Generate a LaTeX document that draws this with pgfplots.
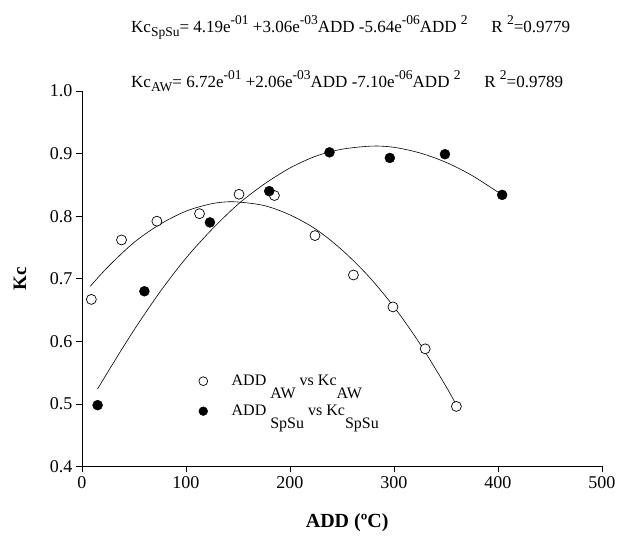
\documentclass[border=0pt]{standalone}
\usepackage{fontspec}
\setmainfont{Liberation Serif}
\usepackage{pgfplots}
\pgfplotsset{compat=1.18}
% small raised / lowered text for the fit equations
\newcommand{\esub}[1]{\raisebox{-4pt}{\fontsize{13.5}{15}\selectfont #1}}
\newcommand{\esup}[1]{\raisebox{8pt}{\fontsize{13.5}{15}\selectfont #1}}
% legend subscripts drop much further
\newcommand{\lsub}[1]{\raisebox{-13pt}{#1}}

\begin{document}
\begin{tikzpicture}[x=1pt,y=1pt]
\begin{axis}[
  at={(0,0)}, anchor=south west,
  scale only axis,
  width=520pt, height=375.5pt,
  xmin=0, xmax=500, ymin=0.4, ymax=1.0,
  xtick={0,100,...,500},
  ytick={0.4,0.5,...,1.0},
  axis lines=left,
  axis line style={-, black, line width=0.8pt},
  tick align=outside,
  major tick length=6pt,
  tick style={black, line width=0.8pt},
  tick label style={font=\fontsize{18}{20}\selectfont},
  /pgf/number format/assume math mode=true,
  yticklabel style={/pgf/number format/.cd, fixed, fixed zerofill, precision=1},
  xlabel={\textbf{ADD (ºC)}},
  ylabel={\textbf{Kc}},
  xlabel style={font=\fontsize{20}{22}\selectfont, at={(axis description cs:0.51,0)}, anchor=base, yshift=-61pt},
  ylabel style={font=\fontsize{19}{21}\selectfont, at={(axis description cs:-0.119,0.5)}, anchor=center},
  legend image code/.code={\draw[#1, mark size=4.4pt] plot coordinates {(0pt,0pt)};},
  legend style={at={(axis cs:112.2,0.5606)}, anchor=north west, draw=none, fill=none,
    font=\fontsize{16}{18}\selectfont, row sep=0pt, inner sep=0pt,
    nodes={inner sep=0pt, text height=19pt, text depth=11pt},
    /tikz/every odd column/.append style={column sep=24pt}},
  legend cell align=left,
]
% fitted curves
\addplot[black, line width=0.6pt, smooth, forget plot] coordinates {
  (8,0.688)(25,0.719)(50,0.758)(75,0.787)(100,0.808)(125,0.820)(146,0.823)
  (175,0.817)(200,0.802)(225,0.779)(250,0.746)(275,0.705)(300,0.655)
  (325,0.596)(350,0.528)(360,0.498)};
\addplot[black, line width=0.6pt, smooth, forget plot] coordinates {
  (15,0.524)(30,0.565)(50,0.618)(75,0.679)(100,0.733)(125,0.779)(150,0.819)
  (175,0.851)(200,0.877)(225,0.896)(250,0.907)(279,0.912)(300,0.910)
  (325,0.901)(350,0.886)(375,0.865)(404,0.834)};
% AW
\addplot[only marks, mark=*, mark size=5pt, mark options={fill=white, draw=black, line width=0.7pt}] coordinates {
  (9,0.667)(38,0.762)(72,0.792)(113,0.804)(151,0.835)(185,0.833)
  (224,0.769)(261,0.706)(299,0.655)(330,0.588)(360,0.496)};
\addlegendentry{ADD \lsub{AW} vs Kc\lsub{AW}}
% SpSu
\addplot[only marks, mark=*, mark size=5pt, mark options={fill=black, draw=black}] coordinates {
  (15,0.498)(60,0.680)(123,0.790)(180,0.840)(238,0.902)(296,0.893)
  (349,0.899)(404,0.834)};
\addlegendentry{ADD \lsub{SpSu} vs Kc\lsub{SpSu}}
\end{axis}
\node[anchor=base west, inner sep=0pt, font=\fontsize{17}{19}\selectfont] at (49pt,433.5pt)
  {Kc\esub{SpSu}= 4.19e\esup{-01} +3.06e\esup{-03}ADD -5.64e\esup{-06}ADD \esup{2}\hspace{1.4em}R \esup{2}=0.9779};
\node[anchor=base west, inner sep=0pt, font=\fontsize{17}{19}\selectfont] at (49pt,378.5pt)
  {Kc\esub{AW}= 6.72e\esup{-01} +2.06e\esup{-03}ADD -7.10e\esup{-06}ADD \esup{2}\hspace{1.4em}R \esup{2}=0.9789};
\path (-82pt,-64.5pt) rectangle (537pt,466.5pt);
\end{tikzpicture}
\end{document}
